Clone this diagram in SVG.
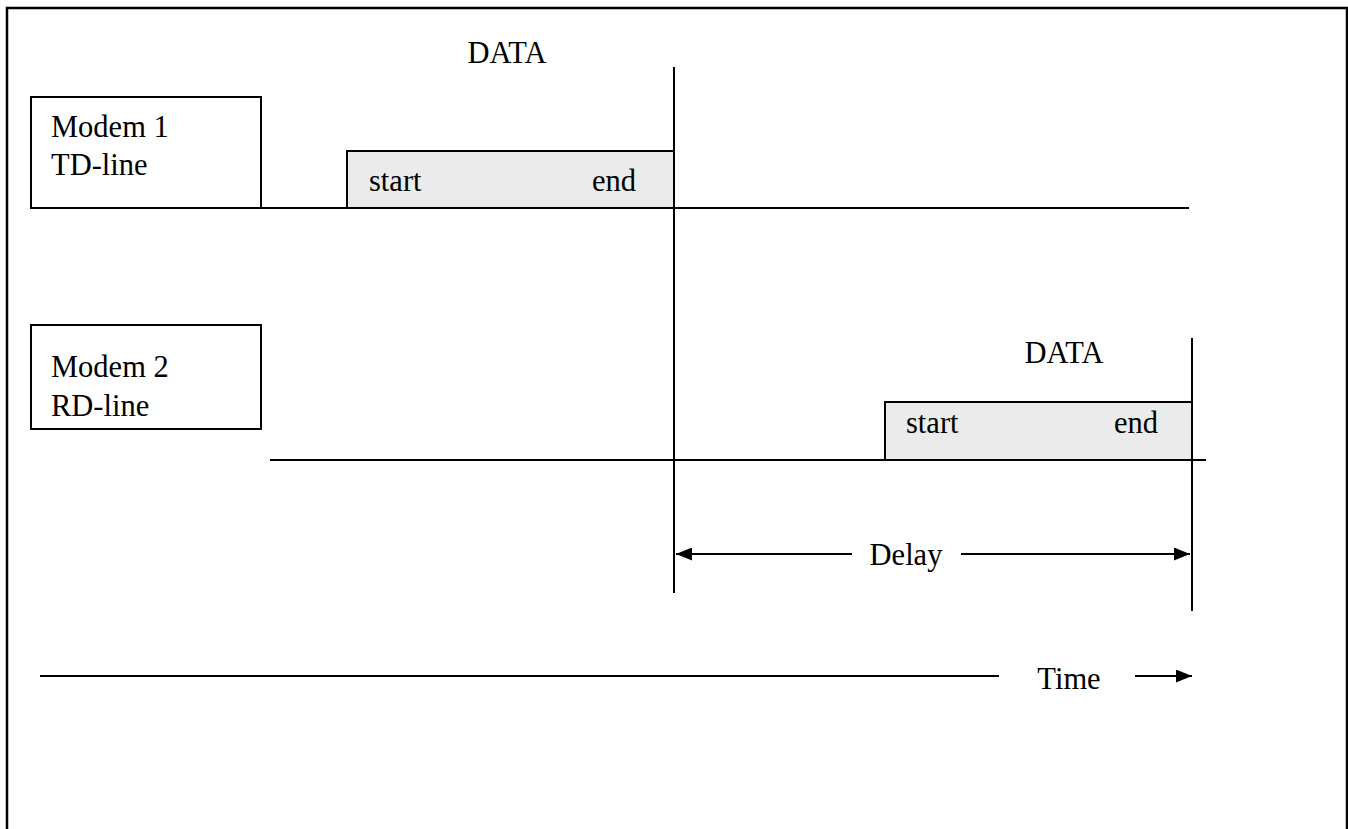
<svg xmlns="http://www.w3.org/2000/svg" width="1348" height="829" viewBox="0 0 1348 829">
<style>
text{font-family:"Liberation Serif","Times New Roman",serif;font-size:30.5px;fill:#000}
.ln{stroke:#000;stroke-width:2;fill:none}
.box{fill:#fff;stroke:#000;stroke-width:2}
.data{fill:#ebebeb;stroke:#000;stroke-width:2}
</style>
<defs>
<marker id="ah" viewBox="0 0 16 13" refX="16" refY="6.5" markerWidth="16" markerHeight="13" markerUnits="userSpaceOnUse" orient="auto-start-reverse">
<path d="M0,0 L16,6.5 L0,13 Z" fill="#000"/>
</marker>
</defs>
<rect x="7" y="8" width="1340" height="830" fill="#fff" stroke="#000" stroke-width="2.5"/>
<g id="connectors">
<line class="ln" x1="261" y1="208" x2="1189" y2="208"/>
<line class="ln" x1="270" y1="460" x2="1206" y2="460"/>
<line class="ln" x1="674" y1="67" x2="674" y2="593"/>
<line class="ln" x1="1192" y1="338" x2="1192" y2="611"/>
<line class="ln" x1="676" y1="554" x2="852" y2="554" marker-start="url(#ah)"/>
<line class="ln" x1="961" y1="554" x2="1190" y2="554" marker-end="url(#ah)"/>
<line class="ln" x1="40" y1="676" x2="999" y2="676"/>
<line class="ln" x1="1135" y1="676" x2="1192" y2="676" marker-end="url(#ah)"/>
</g>
<g id="modem1">
<rect class="box" x="31" y="97" width="230" height="111"/>
<text x="51" y="137">Modem 1</text>
<text x="51" y="175">TD-line</text>
</g>
<g id="modem2">
<rect class="box" x="31" y="325" width="230" height="104"/>
<text x="51" y="377">Modem 2</text>
<text x="51" y="416">RD-line</text>
</g>
<g id="data1">
<text x="507" y="63" text-anchor="middle">DATA</text>
<rect class="data" x="347" y="151" width="327" height="57"/>
<text x="369" y="191">start</text>
<text x="636" y="191" text-anchor="end">end</text>
</g>
<g id="data2">
<text x="1064" y="363" text-anchor="middle">DATA</text>
<rect class="data" x="885" y="402" width="307" height="58"/>
<text x="906" y="433">start</text>
<text x="1158" y="433" text-anchor="end">end</text>
</g>
<g id="labels">
<text x="906" y="565" text-anchor="middle">Delay</text>
<text x="1069" y="689" text-anchor="middle">Time</text>
</g>
</svg>
